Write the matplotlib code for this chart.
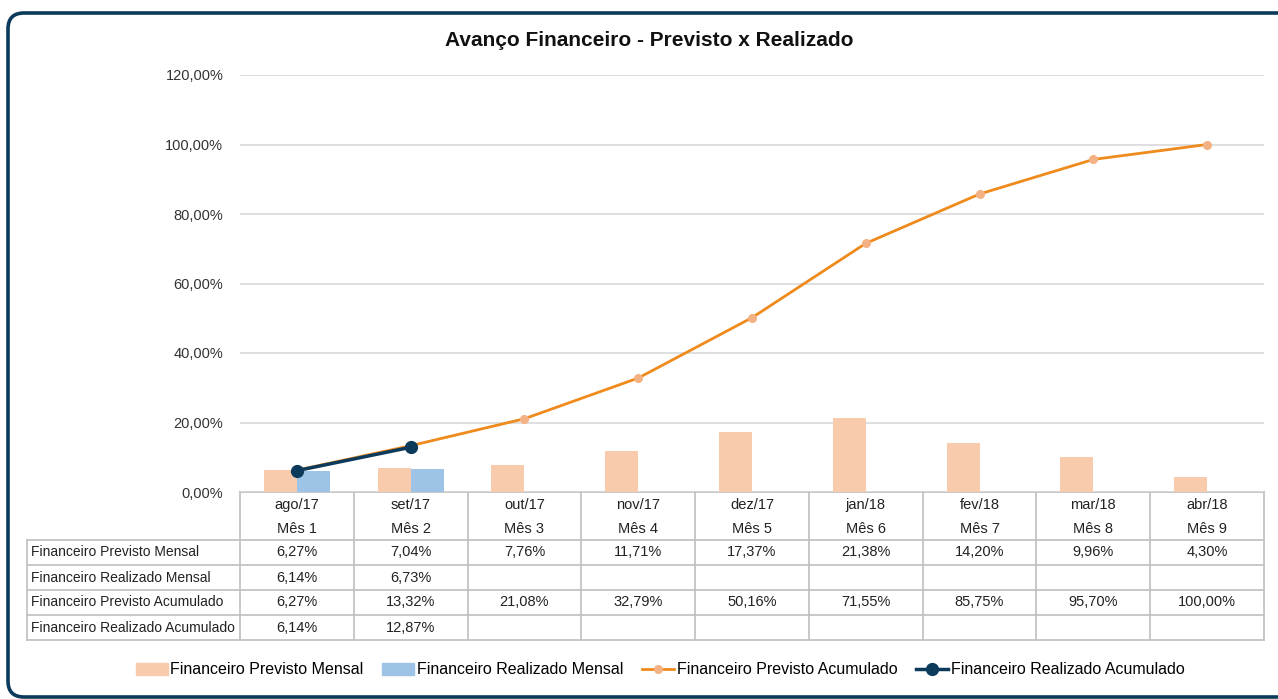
import numpy as np
import matplotlib.pyplot as plt
from matplotlib.patches import FancyBboxPatch
from matplotlib.lines import Line2D
from matplotlib.patches import Patch

plt.rcParams['font.family'] = ['Liberation Sans', 'DejaVu Sans']

meses = ['ago/17', 'set/17', 'out/17', 'nov/17', 'dez/17', 'jan/18', 'fev/18', 'mar/18', 'abr/18']
rotulos = ['Mês 1', 'Mês 2', 'Mês 3', 'Mês 4', 'Mês 5', 'Mês 6', 'Mês 7', 'Mês 8', 'Mês 9']
prev_mensal = [6.27, 7.04, 7.76, 11.71, 17.37, 21.38, 14.20, 9.96, 4.30]
real_mensal = [6.14, 6.73]
prev_acum = [6.27, 13.32, 21.08, 32.79, 50.16, 71.55, 85.75, 95.70, 100.00]
real_acum = [6.14, 12.87]
series_nomes = ['Financeiro Previsto Mensal', 'Financeiro Realizado Mensal',
                'Financeiro Previsto Acumulado', 'Financeiro Realizado Acumulado']

c_prev_bar = '#f8cbad'
c_real_bar = '#9dc3e6'
c_prev_line = '#ef8a1c'
c_prev_mk = '#f4b183'
c_real_line = '#0c3a5a'

W, H = 1278, 699
fig = plt.figure(figsize=(W / 100, H / 100), dpi=100)

# background axes in pixel coords for border and table
bg = fig.add_axes([0, 0, 1, 1])
bg.set_xlim(0, W)
bg.set_ylim(H, 0)
bg.axis('off')
bg.add_patch(FancyBboxPatch((8, 13), 1300, 684, boxstyle='round,pad=0,rounding_size=16',
                            fc='white', ec='#0c3a5a', lw=2.6))

x0, x1 = 240, 1264
y_top, y_zero = 75, 492
ax = fig.add_axes([x0 / W, 1 - y_zero / H, (x1 - x0) / W, (y_zero - y_top) / H])
ax.patch.set_alpha(0)
n = len(meses)
x = np.arange(n)
bw = 0.29
ax.bar(x[:len(prev_mensal)] - bw / 2, prev_mensal, bw, color=c_prev_bar, zorder=2)
ax.bar(x[:len(real_mensal)] + bw / 2, real_mensal, bw, color=c_real_bar, zorder=2)
ax.plot(x, prev_acum, color=c_prev_line, lw=2, marker='o', ms=5.5,
        mfc=c_prev_mk, mec=c_prev_mk, zorder=3)
ax.plot(x[:len(real_acum)], real_acum, color=c_real_line, lw=2.5, marker='o', ms=8.5,
        mfc=c_real_line, mec=c_real_line, zorder=4)
ax.set_xlim(-0.5, n - 0.5)
ax.set_ylim(0, 120)
ax.set_yticks(np.arange(0, 121, 20))
ax.set_yticklabels(['%d,00%%' % v for v in range(0, 121, 20)], fontsize=10.5, color='#333333')
ax.tick_params(axis='y', length=0, pad=12)
ax.set_xticks([])
ax.grid(axis='y', color='#d9d9d9', lw=1.2, zorder=0)
for s in ax.spines.values():
    s.set_visible(False)

fig.text(649 / W, 1 - 40 / H, 'Avanço Financeiro - Previsto x Realizado', fontsize=15,
         fontweight='bold', color='#111111', ha='center', va='center')

# table
colw = (x1 - x0) / n
lab_x0 = 27
rows_y = [492, 540, 565, 590, 615, 640]
gc = '#bfbfbf'
bg.plot([x0, x1], [492, 492], color=gc, lw=1.2)
bg.plot([lab_x0, x1], [540, 540], color=gc, lw=1.2)
for yy in rows_y[2:]:
    bg.plot([lab_x0, x1], [yy, yy], color=gc, lw=1.2)
bg.plot([lab_x0, lab_x0], [540, 640], color=gc, lw=1.2)
for i in range(n + 1):
    bg.plot([x0 + i * colw] * 2, [492, 640], color=gc, lw=1.2)

fmt = lambda v: ('%.2f%%' % v).replace('.', ',')
valores = [prev_mensal, real_mensal, prev_acum, real_acum]
for i in range(n):
    cx = x0 + (i + 0.5) * colw
    bg.text(cx, 505, meses[i], ha='center', va='center', fontsize=10.5, color='#222222')
    bg.text(cx, 529, rotulos[i], ha='center', va='center', fontsize=10.5, color='#222222')
for r, (nome, vals) in enumerate(zip(series_nomes, valores)):
    cy = (rows_y[r + 1] + rows_y[r + 2]) / 2
    bg.text(lab_x0 + 4, cy, nome, ha='left', va='center', fontsize=10, color='#222222')
    for i, v in enumerate(vals):
        bg.text(x0 + (i + 0.5) * colw, cy, fmt(v), ha='center', va='center',
                fontsize=10.5, color='#222222')

handles = [Patch(color=c_prev_bar), Patch(color=c_real_bar),
           Line2D([], [], color=c_prev_line, lw=2, marker='o', ms=5.5, mfc=c_prev_mk, mec=c_prev_mk),
           Line2D([], [], color=c_real_line, lw=2.5, marker='o', ms=8.5)]
fig.legend(handles, series_nomes, loc='center', bbox_to_anchor=(660 / W, 1 - 670 / H), ncol=4,
           frameon=False, fontsize=11.5, handlelength=2.0, handletextpad=0.15, columnspacing=1.2,
           handleheight=0.8)

fig.savefig('out.png', dpi=100)
